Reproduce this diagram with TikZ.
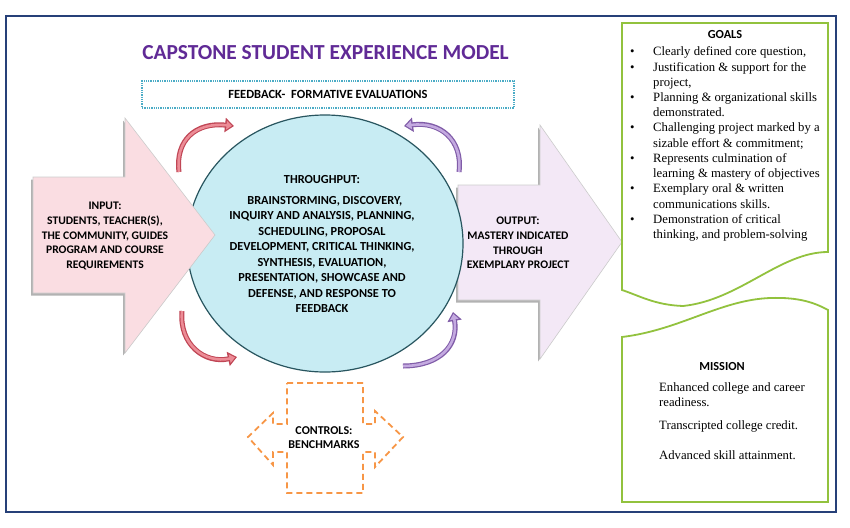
\documentclass[tikz,border=0pt]{standalone}
\usepackage{fontspec}
\setmainfont{Liberation Serif}
\newfontfamily\calfont{Carlito}
\usetikzlibrary{shapes.geometric,shadows,arrows.meta}
\definecolor{frameblue}{RGB}{38,64,120}
\definecolor{titlepurple}{RGB}{96,42,150}
\definecolor{fbteal}{RGB}{75,172,198}
\definecolor{circfill}{RGB}{200,236,243}
\definecolor{circline}{RGB}{40,85,95}
\definecolor{inpink}{RGB}{250,221,226}
\definecolor{outlav}{RGB}{243,232,246}
\definecolor{goalgreen}{RGB}{146,194,62}
\definecolor{ctrlorange}{RGB}{247,150,70}
\definecolor{reddark}{RGB}{192,70,85}
\definecolor{redlight}{RGB}{236,140,150}
\definecolor{purpdark}{RGB}{128,92,168}
\definecolor{purplight}{RGB}{196,170,224}
\tikzset{
  sanslbl/.style={font=\calfont\bfseries\fontsize{11.6}{14.6}\selectfont, align=center, text=black, inner sep=0pt},
  serif/.style={font=\fontsize{12.7}{15.2}\selectfont, inner sep=0pt, anchor=base west},
  bigarrow/.style={draw=black!20, line width=0.6pt, drop shadow={shadow xshift=-2pt, shadow yshift=-2.5pt, opacity=0.3, fill=black}},
  redout/.style={line width=5pt, draw=reddark, -{Triangle[width=14pt,length=9pt]}},
  redin/.style={line width=2.6pt, draw=redlight, shorten >=2pt, -{Triangle[width=8.5pt,length=5.5pt]}},
  purpout/.style={line width=5pt, draw=purpdark, -{Triangle[width=14pt,length=9pt]}},
  purpin/.style={line width=2.6pt, draw=purplight, shorten >=2pt, -{Triangle[width=8.5pt,length=5.5pt]}},
  greenbox/.style={draw=goalgreen, line width=1.8pt, fill=white},
}
\begin{document}
\begin{tikzpicture}[x=1pt,y=-1pt]
\useasboundingbox (0,0) rectangle (850,527);
\fill[white] (0,0) rectangle (850,527);
\draw[frameblue, line width=1.6pt] (6,16) rectangle (836,512);

% title
\node[font=\calfont\bfseries\fontsize{21.4}{25}\selectfont, text=titlepurple] (title) at (325.5,52.5) {CAPSTONE STUDENT EXPERIENCE MODEL};

% feedback box
\node[draw=fbteal, densely dotted, line width=1.3pt, minimum width=372pt, minimum height=27pt,
      font=\calfont\bfseries\fontsize{12.5}{14}\selectfont] (fb) at (328,94.5) {FEEDBACK-\ \ FORMATIVE EVALUATIONS};

% output arrow
\path[bigarrow, fill=outlav] (458,185) -- (540,185) -- (540,125) -- (622,242) -- (540,359) -- (540,300) -- (458,300) -- cycle;
\node[sanslbl] (output) at (518,243) {OUTPUT:\\MASTERY INDICATED\\THROUGH\\EXEMPLARY PROJECT};

% throughput circle
\node[ellipse, draw=circline, line width=1.2pt, fill=circfill, minimum width=276pt, minimum height=257pt] (thru) at (325,243.5) {};
\node[font=\calfont\bfseries\fontsize{12.3}{15.5}\selectfont, align=center, inner sep=0pt] (thrutext) at (322,244)
 {THROUGHPUT:\\[5.5pt]
  \ \ BRAINSTORMING, DISCOVERY,\\
  INQUIRY AND ANALYSIS, PLANNING,\\
  SCHEDULING, PROPOSAL\\
  DEVELOPMENT, CRITICAL THINKING,\\
  SYNTHESIS, EVALUATION,\\
  PRESENTATION, SHOWCASE AND\\
  DEFENSE, AND RESPONSE TO\\
  FEEDBACK};

% input arrow
\path[bigarrow, fill=inpink] (33,177) -- (125,177) -- (125,118) -- (215,235) -- (125,353) -- (125,293) -- (33,293) -- cycle;
\node[sanslbl] (input) at (105,236) {INPUT:\\STUDENTS, TEACHER(S),\\THE COMMUNITY, GUIDES\\PROGRAM AND COURSE\\REQUIREMENTS};

% curved feedback arrows
\coordinate (tlA) at (179,172); \coordinate (tlB) at (234,126);
\coordinate (trA) at (459,172); \coordinate (trB) at (404,126);
\coordinate (blA) at (182,311); \coordinate (blB) at (237,357);
\coordinate (brA) at (403,366); \coordinate (brB) at (453,312);
\draw[redout] (tlA) .. controls (175,140) and (196,122) .. (tlB);
\draw[redin]  (tlA) .. controls (175,140) and (196,122) .. (tlB);
\draw[purpout] (trA) .. controls (463,140) and (440,121) .. (trB);
\draw[purpin]  (trA) .. controls (463,140) and (440,121) .. (trB);
\draw[redout] (blA) .. controls (179,345) and (205,364) .. (blB);
\draw[redin]  (blA) .. controls (179,345) and (205,364) .. (blB);
\draw[purpout] (brA) .. controls (440,366) and (459,345) .. (brB);
\draw[purpin]  (brA) .. controls (440,366) and (459,345) .. (brB);

% goals box
\path[greenbox] (622,23) -- (828,23) -- (828,252) .. controls (780,252) and (740,300) .. (683,306) .. controls (655,305) and (640,296) .. (622,290) -- cycle;
\node[font=\calfont\bfseries\fontsize{12.3}{15}\selectfont] (goalstitle) at (725,35) {GOALS};
\node[serif] (goals) at (630,56) {\begin{tabular}[t]{@{}p{23pt}@{}l@{}}
\textbullet & Clearly defined core question,\\
\textbullet & Justification \& support for the\\
 & project,\\
\textbullet & Planning \& organizational skills\\
 & demonstrated.\\
\textbullet & Challenging project marked by a\\
 & sizable effort \& commitment;\\
\textbullet & Represents culmination of\\
 & learning \& mastery of objectives\\
\textbullet & Exemplary oral \& written\\
 & communications skills.\\
\textbullet & Demonstration of critical\\
 & thinking, and problem-solving
\end{tabular}};

% mission box
\path[greenbox] (622,337) .. controls (680,330) and (720,300) .. (770,298) .. controls (800,297) and (815,303) .. (828,310) -- (828,502) -- (622,502) -- cycle;
\node[font=\calfont\bfseries\fontsize{12.3}{15}\selectfont] (missiontitle) at (722,367) {MISSION};
\node[serif] (m1) at (659,391) {Enhanced college and career};
\node[serif] (m2) at (659,406) {readiness.};
\node[serif] (m3) at (659,429) {Transcripted college credit.};
\node[serif] (m4) at (659,459) {Advanced skill attainment.};

% controls
\draw[ctrlorange, line width=1.8pt, dash pattern=on 6pt off 4pt, line join=miter]
  (287,383) -- (363,383) -- (363,424) -- (375,424) -- (375,411) -- (403,437) -- (375,467) -- (375,452) -- (363,452) -- (363,493) -- (287,493) -- (287,452) -- (273,452) -- (273,465) -- (248,437) -- (273,413) -- (273,424) -- (287,424) -- cycle;
\node[font=\calfont\bfseries\fontsize{12}{14}\selectfont, align=center, inner sep=0pt] (controls) at (324,438) {CONTROLS:\\BENCHMARKS};
\end{tikzpicture}
\end{document}
